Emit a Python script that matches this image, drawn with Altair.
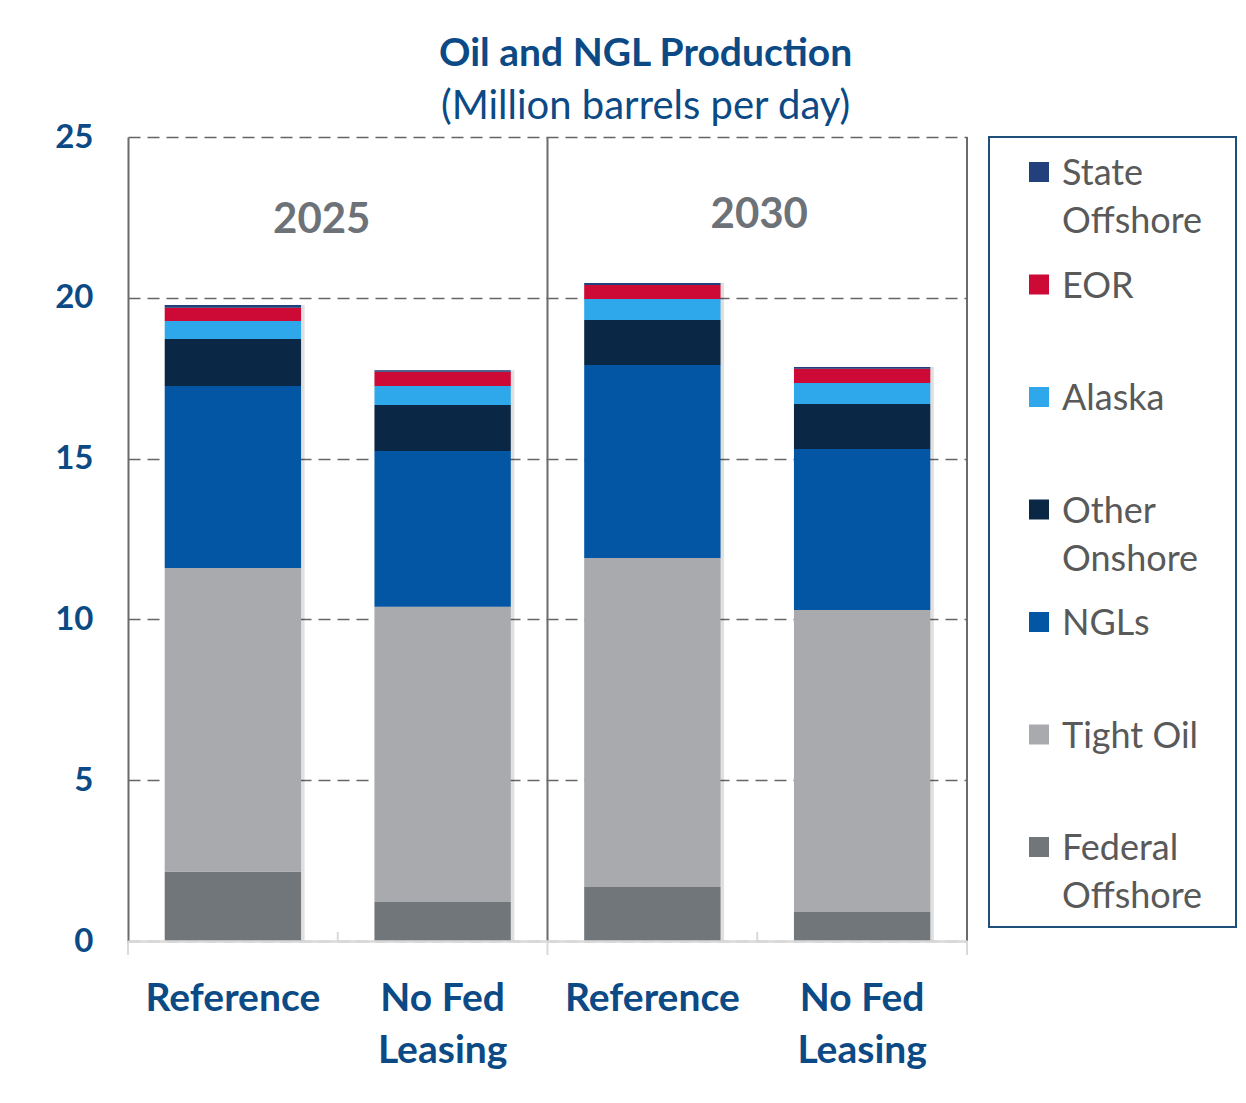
import altair as alt
import pandas as pd

# ---- data ----
bars = ["2025|Reference", "2025|No Fed Leasing", "2030|Reference", "2030|No Fed Leasing"]
series = ["Federal Offshore", "Tight Oil", "NGLs", "Other Onshore", "Alaska", "EOR", "State Offshore"]
colors = ["#71767a", "#a9aaae", "#0256a3", "#0a2845", "#2ea8ea", "#cc0a35", "#22407c"]

federal_offshore = [2.15, 1.21, 1.68, 0.90]
tight_oil = [9.45, 9.18, 10.23, 9.39]
ngls = [5.66, 4.85, 6.00, 5.01]
other_onshore = [1.46, 1.43, 1.40, 1.40]
alaska = [0.56, 0.59, 0.65, 0.65]
eor = [0.41, 0.44, 0.44, 0.44]
state_offshore = [0.09, 0.05, 0.06, 0.06]

years = ["2025", "2030"]
legend_order = ["State Offshore", "EOR", "Alaska", "Other Onshore", "NGLs", "Tight Oil", "Federal Offshore"]
legend_labels = ["State\nOffshore", "EOR", "Alaska", "Other\nOnshore", "NGLs", "Tight Oil", "Federal\nOffshore"]

values = {
    "Federal Offshore": federal_offshore,
    "Tight Oil": tight_oil,
    "NGLs": ngls,
    "Other Onshore": other_onshore,
    "Alaska": alaska,
    "EOR": eor,
    "State Offshore": state_offshore,
}

rows = []
for si, s in enumerate(series):
    for bi, b in enumerate(bars):
        rows.append({"bar": b, "series": s, "order": si, "value": values[s][bi]})
df = pd.DataFrame(rows)

BLUE = "#0b4a85"
FONT = "Lato"
W, H = 839, 804

color_scale = alt.Scale(domain=series, range=colors)
x_scale = alt.Scale(domain=bars, paddingInner=0, paddingOuter=0)

x_axis = alt.Axis(
    title=None,
    labelExpr="indexof(datum.value, 'No Fed') >= 0 ? ['No Fed', 'Leasing'] : 'Reference'",
    labelFont=FONT, labelFontSize=39, labelFontWeight="bold", labelColor=BLUE,
    labelPadding=38, labelLineHeight=52, labelAngle=0,
    ticks=False, domainColor="#d9d9d9", domainWidth=2.5, zindex=1,
)
y_axis = alt.Axis(
    title=None, values=[0, 5, 10, 15, 20, 25],
    labelFont=FONT, labelFontSize=33, labelFontWeight="bold", labelColor=BLUE,
    labelPadding=35, ticks=False,
    grid=True, gridDash=[12, 7], gridColor="#666666", gridWidth=1.6,
    domainColor="#6b6b6b", domainWidth=2,
)

shadow = alt.Chart(df).mark_bar(
    width={"band": 0.665}, xOffset=2, color="#000000", opacity=0.12,
).encode(
    x=alt.X("bar:N", sort=bars, scale=x_scale, axis=x_axis),
    y=alt.Y("sum(value):Q", scale=alt.Scale(domain=[0, 25]), axis=y_axis),
)

base_bars = alt.Chart(df).mark_bar(width={"band": 0.65}).encode(
    x=alt.X("bar:N", sort=bars, scale=x_scale, axis=x_axis),
    y=alt.Y("value:Q", stack="zero", scale=alt.Scale(domain=[0, 25]), axis=y_axis),
    color=alt.Color("series:N", scale=color_scale, legend=None),
    order=alt.Order("order:Q", sort="ascending"),
)

sep_mid = alt.Chart(pd.DataFrame({"bar": [bars[2]]})).mark_rule(color="#6b6b6b", strokeWidth=2).encode(
    x=alt.X("bar:N", sort=bars, bandPosition=0),
)
sep_right = alt.Chart(pd.DataFrame({"bar": [bars[3]]})).mark_rule(color="#6b6b6b", strokeWidth=2).encode(
    x=alt.X("bar:N", sort=bars, bandPosition=1),
)
ext_a = alt.Chart(pd.DataFrame({"bar": [bars[0], bars[2]]})).mark_rule(color="#d9d9d9", strokeWidth=2).encode(
    x=alt.X("bar:N", sort=bars, bandPosition=0), y=alt.value(H), y2=alt.value(H + 14),
)
ext_b = alt.Chart(pd.DataFrame({"bar": [bars[3]]})).mark_rule(color="#d9d9d9", strokeWidth=2).encode(
    x=alt.X("bar:N", sort=bars, bandPosition=1), y=alt.value(H), y2=alt.value(H + 14),
)
up_ticks = alt.Chart(pd.DataFrame({"bar": [bars[1], bars[3]]})).mark_rule(color="#d9d9d9", strokeWidth=2).encode(
    x=alt.X("bar:N", sort=bars, bandPosition=0), y=alt.value(H - 9), y2=alt.value(H),
)

year_df = pd.DataFrame({"bar": [bars[0], bars[2]], "year": years})
year_a = alt.Chart(year_df.iloc[[0]]).mark_text(
    font=FONT, fontSize=42, fontWeight="bold", color="#6d7278", dx=-16, dy=0,
).encode(x=alt.X("bar:N", sort=bars, bandPosition=1), y=alt.value(83), text="year:N")
year_b = alt.Chart(year_df.iloc[[1]]).mark_text(
    font=FONT, fontSize=42, fontWeight="bold", color="#6d7278", dx=2, dy=0,
).encode(x=alt.X("bar:N", sort=bars, bandPosition=1), y=alt.value(78), text="year:N")

main = alt.layer(shadow, base_bars, sep_mid, sep_right, ext_a, ext_b, up_ticks, year_a, year_b).properties(
    width=W, height=H, view=alt.ViewBackground(stroke="transparent"),
)

leg_df = pd.DataFrame({"series": legend_order, "label": legend_labels})
leg_y = alt.Y(
    "series:N", sort=legend_order,
    scale=alt.Scale(type="point", domain=legend_order, range=[35, 710], padding=0),
    axis=None,
)
leg_sq = alt.Chart(leg_df).mark_square(size=400, opacity=1).encode(
    x=alt.value(50), y=leg_y,
    color=alt.Color("series:N", scale=color_scale, legend=None),
)
leg_tx = alt.Chart(leg_df).mark_text(
    font=FONT, fontSize=36, color="#595959", align="left", baseline="alphabetic",
    dy=13, lineBreak="\n", lineHeight=48,
).encode(x=alt.value(73), y=leg_y, text="label:N")

legend = alt.layer(leg_sq, leg_tx).properties(
    width=247, height=790, view=alt.ViewBackground(stroke="#1f4e79", strokeWidth=2),
)

chart = alt.hconcat(main, legend, spacing=22, bounds="flush").properties(
    title=alt.TitleParams(
        text="Oil and NGL Production", subtitle="(Million barrels per day)",
        font=FONT, fontSize=39, fontWeight="bold", color=BLUE,
        subtitleFont=FONT, subtitleFontSize=40, subtitleFontWeight="normal", subtitleColor=BLUE,
        subtitlePadding=13, anchor="middle", offset=-6,
    ),
    padding={"left": 46, "top": 26, "right": 0, "bottom": 5},
    background="white",
).configure_view(stroke=None)

chart.save("out.html", embed_options={"renderer": "svg", "actions": False})
